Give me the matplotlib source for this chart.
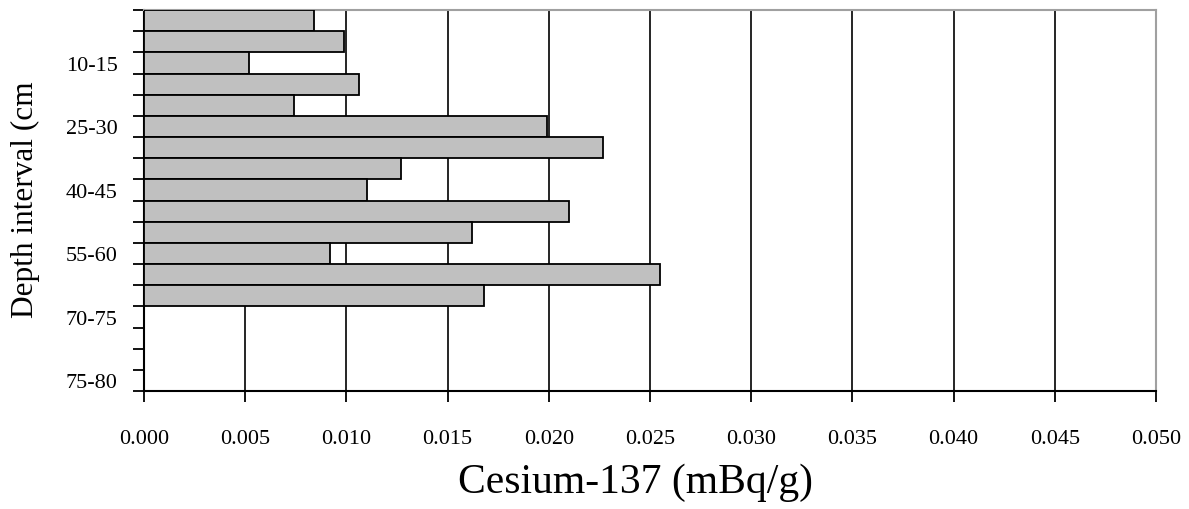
import numpy as np
import matplotlib
matplotlib.use("Agg")
import matplotlib.pyplot as plt
from matplotlib.ticker import FixedLocator

# Depth intervals (top to bottom) and Cs-137 activity per interval
depth_labels = ["0-5", "5-10", "10-15", "15-20", "20-25", "25-30", "30-35",
                "35-40", "40-45", "45-50", "50-55", "55-60", "60-65", "65-70",
                "70-75", "", "", "75-80"]
cesium_137 = [0.0084, 0.0099, 0.0052, 0.0106, 0.0074, 0.0199, 0.0227,
              0.0127, 0.0110, 0.0210, 0.0162, 0.0092, 0.0255, 0.0168]
x_ticks = [0.000, 0.005, 0.010, 0.015, 0.020, 0.025, 0.030, 0.035, 0.040,
           0.045, 0.050]

plt.rcParams["font.family"] = ["Liberation Serif", "DejaVu Serif"]

fig = plt.figure(figsize=(11.89, 5.10), dpi=100)
ax = fig.add_axes([144 / 1189, 1 - 392 / 510, 1012 / 1189, 381 / 510])

n_cat = len(depth_labels)
y_pos = np.arange(len(cesium_137))
ax.barh(y_pos, cesium_137, height=1.0, color="#C0C0C0",
        edgecolor="black", linewidth=1.3, zorder=3)

ax.set_xlim(0, 0.050)
ax.set_ylim(n_cat - 0.5, -0.5)

# vertical gridlines at every major x tick
ax.set_axisbelow(True)
ax.xaxis.set_major_locator(FixedLocator(x_ticks))
ax.set_xticklabels([f"{v:.3f}" for v in x_ticks])
ax.grid(axis="x", color="black", linewidth=1.2, zorder=0)
ax.grid(axis="y", visible=False)

# category boundaries carry the tick marks; labels sit at every third centre
ax.yaxis.set_major_locator(FixedLocator(np.arange(n_cat + 1) - 0.5))
ax.yaxis.set_major_formatter(plt.NullFormatter())
label_idx = [2, 5, 8, 11, 14, 17]
ax.yaxis.set_minor_locator(FixedLocator(label_idx))
ax.set_yticklabels([depth_labels[i] for i in label_idx], minor=True)

ax.tick_params(axis="y", which="major", direction="out", length=8,
               width=1.3, color="black")
ax.tick_params(axis="y", which="minor", length=0, pad=19, labelsize=16)
ax.tick_params(axis="x", which="major", direction="out", length=8,
               width=1.3, color="black", pad=19, labelsize=16)

for side in ("left", "bottom"):
    ax.spines[side].set_color("black")
    ax.spines[side].set_linewidth(1.5)
for side in ("top", "right"):
    ax.spines[side].set_color("#a0a0a0")
    ax.spines[side].set_linewidth(1.5)

ax.set_xlabel("Cesium-137 (mBq/g)", fontsize=30)
ax.xaxis.set_label_coords(0.486, -0.239)
ax.xaxis.label.set_va("center")

ax.set_ylabel("Depth interval (cm", fontsize=22.5)
ax.yaxis.set_label_coords(-0.117, 0.504)
ax.yaxis.label.set_va("center")

fig.savefig("out.png", dpi=100)
